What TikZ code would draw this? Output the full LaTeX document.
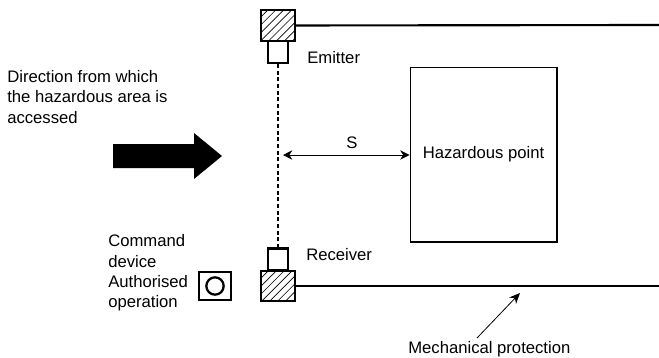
\documentclass[tikz,border=0pt]{standalone}
\usepackage{fontspec}
\setmainfont{Liberation Sans}
\usetikzlibrary{arrows.meta,positioning,calc,patterns.meta}

\begin{document}
\begin{tikzpicture}[
  x=0.75pt, y=-0.75pt,
  font=\fontsize{12.5pt}{15.2pt}\selectfont,
  hatched/.style={draw=black, line width=1.7pt, minimum width=25.5pt, minimum height=23pt,
                  inner sep=0pt,
                  pattern={Lines[angle=45, distance=4.2pt, line width=0.5pt]}},
  sensor/.style={draw=black, line width=1.7pt, fill=white, minimum width=15pt,
                 minimum height=16.5pt, inner sep=0pt},
  lbl/.style={align=left, inner sep=0pt, anchor=west},
  tag/.style={inner sep=0pt, anchor=base west},
  wall/.style={line width=1.6pt},
]
\useasboundingbox (0,0) rectangle (659,357);

% ---------------- barrier ---------------------------------------------
\node[hatched] (topmount) at (278,25.5) {};
\node[sensor] (emitter) at (278,52) {};
\node[hatched] (botmount) at (278,286) {};
\node[sensor] (receiver) at (278,259.5) {};

\draw[line width=1.5pt, dash pattern=on 3pt off 2pt] (emitter) -- (receiver);

\coordinate (topend) at (659,25);
\coordinate (botend) at (659,286);
\coordinate (beam) at (283,155);
\coordinate (wallhit) at (520,293);

\draw[wall] (topmount) -- (topend);
\draw[wall] (botmount) -- (botend);

% ---------------- hazard and distance ---------------------------------
\node[draw, line width=1pt, minimum width=110pt, minimum height=131pt, inner sep=0pt]
  (hazard) at (483.5,154.5) {Hazardous point};

\draw[{Stealth[length=7pt,width=7pt]}-{Stealth[length=7pt,width=7pt]}, line width=0.7pt]
  (beam) -- (beam -| hazard.west);
\node[tag, anchor=base] (dist) at (352,148) {S};

% ---------------- access direction ------------------------------------
\fill (113,144) -- (194,144) -- (194,133) -- (222,156) -- (194,179)
  -- (194,168) -- (113,168) -- cycle;

\node[lbl] (access) at (7,97) {Direction from which\\the hazardous area is\\accessed};

% ---------------- labels ----------------------------------------------
\node[tag] (emitlbl) at (307,63.5) {Emitter};
\node[tag] (recvlbl) at (306,260) {Receiver};
\node[lbl] (cmdlbl) at (108,273) {Command\\device\\Authorised\\operation};

\node[draw, line width=1.7pt, minimum width=23.5pt, minimum height=21.5pt, inner sep=0pt]
  (button) at (215,286) {};
\node[draw, line width=1.7pt, circle, minimum size=13pt, inner sep=0pt] (knob) at (button) {};

\node[tag] (mechlbl) at (408,353.5) {Mechanical protection};
\coordinate (mechfoot) at (477,338);
\draw[-{Stealth[length=8pt,width=7pt]}, line width=0.6pt] (mechfoot) -- (wallhit);

\end{tikzpicture}
\end{document}
